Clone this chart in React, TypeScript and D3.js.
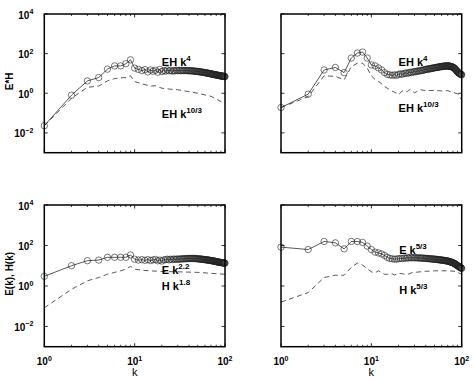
import React from "react";
import * as d3 from "d3";

// wavenumbers k = 1..100
const K = d3.range(1, 101);

// ---- top-left: E*H compensated by k^4 (solid, circles) and k^10/3 (dashed)
const TL_SOLID = [
  0.023, 0.8, 4.2, 6.2, 16.5, 24, 24, 31, 49, 18.6,
  16, 14, 15.5, 12, 15, 13, 14.5, 11.5, 16, 12.5,
  14, 13, 15, 13.5, 14.5, 13, 14, 13.5, 14.5, 13.8,
  14.2, 13.6, 14, 14.3, 13.7, 14.1, 13.9, 14, 13.6, 13.8,
  13.5, 13.7, 13.4, 13.2, 13.3, 13, 12.9, 12.8, 12.6, 12.5,
  12.3, 12.2, 12, 11.9, 11.7, 11.6, 11.4, 11.3, 11.1, 11,
  10.8, 10.7, 10.5, 10.4, 10.2, 10.1, 9.9, 9.8, 9.7, 9.5,
  9.4, 9.3, 9.1, 9, 8.9, 8.8, 8.7, 8.6, 8.5, 8.4,
  8.3, 8.2, 8.1, 8, 7.9, 7.85, 7.8, 7.7, 7.6, 7.5,
  7.45, 7.4, 7.35, 7.3, 7.2, 7.15, 7.1, 7.05, 7, 6.9,
];
const TL_DASH_K = [1, 2, 3, 4, 5, 6, 7, 8, 9, 10, 12, 15, 17, 20, 25, 30, 40, 50, 70, 100];
const TL_DASH = [0.023, 0.56, 2, 2.3, 4.2, 5.5, 6, 6.2, 7.6, 3.9, 3.0, 2.3, 2.4, 1.8, 1.6, 1.5, 1.2, 1.0, 0.7, 0.3];

// ---- top-right
const TR_SOLID = [
  0.19, 0.9, 15, 20, 11, 60, 107, 120, 60, 27,
  24, 19, 15, 11, 9, 8.5, 8, 8.5, 8, 9,
  9.5, 9, 10, 10.5, 10, 11, 11.5, 11, 12, 12.5,
  12, 13, 13.5, 13, 14, 14.5, 14, 15, 15.5, 16,
  16.5, 16, 17, 17.5, 17, 18, 18.5, 18, 19, 19.5,
  19.5, 20, 20.5, 20, 21, 21.5, 21, 22, 22.5, 22,
  22.5, 23, 23, 23.5, 23, 24, 23.5, 24, 24, 23.5,
  24, 23.5, 23, 23.5, 23, 22.5, 22, 21.5, 21, 20.5,
  20, 19, 18.5, 17.5, 16.5, 15.5, 14.5, 13.5, 12.5, 12,
  11.5, 11, 10.5, 10, 9.8, 9.5, 9.3, 9, 8.8, 8.5,
];
const TR_DASH_K = [1, 2, 3, 4, 5, 6, 7, 8, 9, 10, 11, 12, 13, 14, 15, 17, 19, 20, 22, 25, 27, 30, 35, 40, 50, 60, 70, 80, 90, 100];
const TR_DASH = [0.19, 0.68, 7.6, 7.1, 4.8, 22, 33, 33, 18.6, 7.6, 5, 3.9, 3, 2.2, 1.8, 1.3, 1.0, 0.85, 1.3, 1.2, 1.6, 1.05, 1.5, 1.35, 1.4, 1.3, 1.35, 1.1, 0.95, 0.46];

// ---- bottom-left: E(k) k^2.2 (solid), H(k) k^1.8 (dashed)
const BL_SOLID = [
  3, 10, 17.8, 19, 26, 26, 26, 26, 34, 21,
  19, 20, 18.5, 20, 18, 19.5, 20.5, 17.5, 19, 17,
  19.5, 20, 21, 19.5, 21, 20, 21.5, 20.5, 21, 21.5,
  21, 21.5, 22, 21.5, 22, 22.5, 22, 22.5, 23, 22.5,
  23, 22.5, 23, 23, 22.5, 23, 22.5, 22.5, 22, 22,
  21.8, 21.6, 21.4, 21.2, 21, 20.8, 20.6, 20.4, 20.2, 20,
  19.8, 19.6, 19.4, 19.2, 19, 18.8, 18.6, 18.4, 18.2, 18,
  17.8, 17.6, 17.4, 17.2, 17, 16.8, 16.6, 16.4, 16.2, 16,
  15.8, 15.6, 15.4, 15.2, 15, 14.9, 14.8, 14.6, 14.5, 14.4,
  14.3, 14.2, 14.1, 14, 13.9, 13.8, 13.7, 13.6, 13.5, 13.4,
];
const BL_DASH_K = [1, 2, 3, 4, 5, 6, 7, 8, 9, 10, 12, 15, 20, 30, 50, 70, 100];
const BL_DASH = [0.083, 0.68, 1.8, 2.6, 3.8, 4.7, 5.6, 6.8, 9.3, 6.8, 6.0, 5.6, 5.2, 5.0, 4.7, 4.2, 3.8];

// ---- bottom-right: E k^5/3 (solid), H k^5/3 (dashed)
const BR_SOLID = [
  83, 63, 158, 135, 68, 158, 158, 141, 93, 63,
  47, 43, 38, 32, 26, 23, 22, 21, 21.5, 22,
  23, 22.5, 24, 23.5, 25, 24, 25.5, 24.5, 25, 24.5,
  25, 24.5, 24, 24.5, 24, 23.5, 24, 23.5, 23, 23,
  22.8, 22.6, 22.4, 22.2, 22, 21.8, 21.6, 21.4, 21.2, 21,
  20.8, 20.6, 20.4, 20.2, 20, 19.8, 19.6, 19.4, 19.2, 19,
  18.8, 18.6, 18.4, 18.2, 18, 17.8, 17.6, 17.4, 17.2, 17,
  16.7, 16.4, 16.1, 15.8, 15.5, 15.2, 14.9, 14.6, 14.3, 14,
  13.6, 13.2, 12.8, 12.4, 12, 11.6, 11.2, 10.8, 10.4, 10,
  9.7, 9.4, 9.1, 8.8, 8.5, 8.2, 8, 7.8, 7.6, 7.4,
];
const BR_DASH_K = [1, 2, 3, 4, 5, 6, 7, 8, 9, 10, 11, 12, 13, 14, 15, 17, 18, 20, 22, 25, 28, 30, 40, 50, 70, 85, 100];
const BR_DASH = [0.16, 0.47, 2.6, 3.4, 3.4, 8.3, 13.5, 10.7, 7.1, 5, 4.5, 5.6, 4.7, 3.8, 3.8, 4.0, 3.5, 4.2, 4.0, 3.7, 4.5, 4.7, 5.3, 5.6, 5.6, 5.3, 3.8];

// axes
const X_DOMAIN = [1, 100];
const Y_DOMAIN = [1e-3, 1e4];
const X_MAJOR = [1, 10, 100];
const X_MAJOR_EXP = ["0", "1", "2"];
const Y_MAJOR = [1e-2, 1, 1e2, 1e4];
const Y_MAJOR_EXP = ["\u22122", "0", "2", "4"];

type Label = { main: string; sup: string; k: number; v: number };

const TL_LABELS: Label[] = [
  { main: "EH k", sup: "4", k: 20, v: 24 },
  { main: "EH k", sup: "10/3", k: 20, v: 0.056 },
];
const TR_LABELS: Label[] = [
  { main: "EH k", sup: "4", k: 20, v: 24 },
  { main: "EH k", sup: "10/3", k: 20, v: 0.12 },
];
const BL_LABELS: Label[] = [
  { main: "E k", sup: "2.2", k: 20, v: 3.85 },
  { main: "H k", sup: "1.8", k: 20, v: 0.61 },
];
const BR_LABELS: Label[] = [
  { main: "E k", sup: "5/3", k: 20.3, v: 40 },
  { main: "H k", sup: "5/3", k: 20.3, v: 0.39 },
];

const FONT = "'Liberation Sans', Arial, Helvetica, sans-serif";

type PanelProps = {
  left: number;
  right: number;
  top: number;
  bottom: number;
  solid: number[];
  dashK: number[];
  dash: number[];
  labels: Label[];
  xTickLabels: boolean;
  yTickLabels: boolean;
  yTitle?: string;
  xTitle?: string;
};

function Panel(p: PanelProps) {
  const xs = d3.scaleLog().domain(X_DOMAIN).range([p.left, p.right]);
  const ys = d3.scaleLog().domain(Y_DOMAIN).range([p.bottom, p.top]);
  const line = d3
    .line<[number, number]>()
    .x((d) => xs(d[0]))
    .y((d) => ys(d[1]));
  const solidPts: [number, number][] = K.map((k, i) => [k, p.solid[i]]);
  const dashPts: [number, number][] = p.dashK.map((k, i) => [k, p.dash[i]]);
  const minorX: number[] = [];
  [1, 10].forEach((dec) => {
    for (let m = 2; m <= 9; m++) minorX.push(dec * m);
  });
  const majL = 3.5;
  const minL = 2;
  return (
    <g>
      {/* data */}
      <path d={line(dashPts) || ""} fill="none" stroke="#111" strokeWidth={0.7} strokeDasharray="5,3.5" />
      <path d={line(solidPts) || ""} fill="none" stroke="#111" strokeWidth={0.7} />
      {solidPts.map((d, i) => (
        <circle key={i} cx={xs(d[0])} cy={ys(d[1])} r={3.2} fill="none" stroke="#222" strokeWidth={0.6} />
      ))}
      {/* ticks */}
      {X_MAJOR.map((t, i) => (
        <g key={"xm" + i}>
          <line x1={xs(t)} x2={xs(t)} y1={p.bottom} y2={p.bottom - majL} stroke="#000" strokeWidth={0.8} />
          <line x1={xs(t)} x2={xs(t)} y1={p.top} y2={p.top + majL} stroke="#000" strokeWidth={0.8} />
        </g>
      ))}
      {minorX.map((t, i) => (
        <g key={"xn" + i}>
          <line x1={xs(t)} x2={xs(t)} y1={p.bottom} y2={p.bottom - minL} stroke="#000" strokeWidth={0.7} />
          <line x1={xs(t)} x2={xs(t)} y1={p.top} y2={p.top + minL} stroke="#000" strokeWidth={0.7} />
        </g>
      ))}
      {Y_MAJOR.map((t, i) => (
        <g key={"ym" + i}>
          <line x1={p.left} x2={p.left + majL} y1={ys(t)} y2={ys(t)} stroke="#000" strokeWidth={0.8} />
          <line x1={p.right} x2={p.right - majL} y1={ys(t)} y2={ys(t)} stroke="#000" strokeWidth={0.8} />
        </g>
      ))}
      {/* box */}
      <rect
        x={p.left}
        y={p.top}
        width={p.right - p.left}
        height={p.bottom - p.top}
        fill="none"
        stroke="#000"
        strokeWidth={1.5}
      />
      {/* tick labels */}
      {p.xTickLabels &&
        X_MAJOR.map((t, i) => (
          <text
            key={"xl" + i}
            x={xs(t)}
            y={p.bottom + 18.5}
            textAnchor="middle"
            fontFamily={FONT}
            fontWeight="bold"
            fontSize={10}
          >
            10
            <tspan dy={-4.5} fontSize={7}>
              {X_MAJOR_EXP[i]}
            </tspan>
          </text>
        ))}
      {p.yTickLabels &&
        Y_MAJOR.map((t, i) => (
          <text
            key={"yl" + i}
            x={p.left - 11}
            y={ys(t) + 4.5}
            textAnchor="end"
            fontFamily={FONT}
            fontWeight="bold"
            fontSize={10}
          >
            10
            <tspan dy={-4.5} fontSize={7}>
              {Y_MAJOR_EXP[i]}
            </tspan>
          </text>
        ))}
      {/* curve labels */}
      {p.labels.map((l, i) => (
        <text key={"lb" + i} x={xs(l.k)} y={ys(l.v)} fontFamily={FONT} fontWeight="bold" fontSize={11}>
          {l.main}
          <tspan dy={-5} fontSize={8}>
            {l.sup}
          </tspan>
        </text>
      ))}
      {p.yTitle && (
        <text
          transform={`translate(${p.left - 31},${(p.top + p.bottom) / 2 - 2}) rotate(-90)`}
          textAnchor="middle"
          fontFamily={FONT}
          fontWeight="bold"
          fontSize={10}
        >
          {p.yTitle}
        </text>
      )}
      {p.xTitle && (
        <text
          x={(p.left + p.right) / 2}
          y={p.bottom + 29.5}
          textAnchor="middle"
          fontFamily={FONT}
          fontSize={11}
        >
          {p.xTitle}
        </text>
      )}
    </g>
  );
}

export default function App() {
  const W = 474;
  const H = 382;
  const colL = [44.3, 225];
  const colR = [281, 461.7];
  const rowT = [14, 152.7];
  const rowB = [205, 346.7];
  return (
    <svg
      width={W}
      height={H}
      viewBox={`0 0 ${W} ${H}`}
      style={{ position: "absolute", left: 0, top: 0, background: "#fff" }}
    >
      <rect width={W} height={H} fill="#fff" />
      <Panel
        left={colL[0]}
        right={colL[1]}
        top={rowT[0]}
        bottom={rowT[1]}
        solid={TL_SOLID}
        dashK={TL_DASH_K}
        dash={TL_DASH}
        labels={TL_LABELS}
        xTickLabels={false}
        yTickLabels={true}
        yTitle="E*H"
      />
      <Panel
        left={colR[0]}
        right={colR[1]}
        top={rowT[0]}
        bottom={rowT[1]}
        solid={TR_SOLID}
        dashK={TR_DASH_K}
        dash={TR_DASH}
        labels={TR_LABELS}
        xTickLabels={false}
        yTickLabels={false}
      />
      <Panel
        left={colL[0]}
        right={colL[1]}
        top={rowB[0]}
        bottom={rowB[1]}
        solid={BL_SOLID}
        dashK={BL_DASH_K}
        dash={BL_DASH}
        labels={BL_LABELS}
        xTickLabels={true}
        yTickLabels={true}
        yTitle="E(k), H(k)"
        xTitle="k"
      />
      <Panel
        left={colR[0]}
        right={colR[1]}
        top={rowB[0]}
        bottom={rowB[1]}
        solid={BR_SOLID}
        dashK={BR_DASH_K}
        dash={BR_DASH}
        labels={BR_LABELS}
        xTickLabels={true}
        yTickLabels={false}
        xTitle="k"
      />
    </svg>
  );
}
